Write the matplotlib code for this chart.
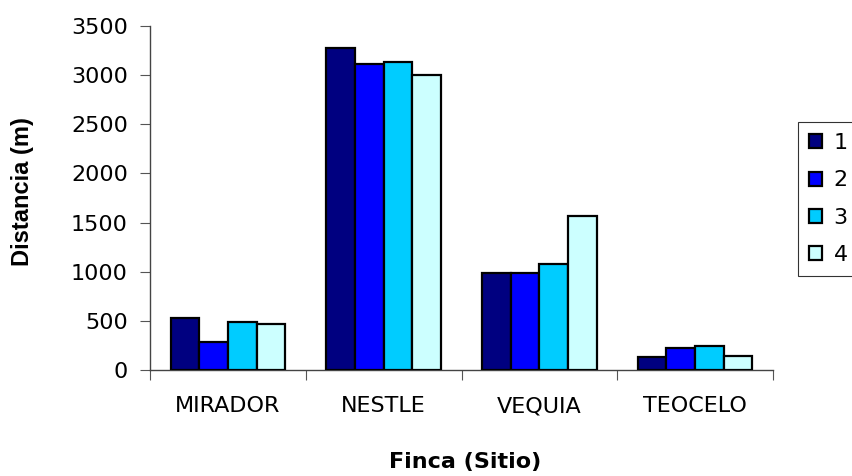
import matplotlib
matplotlib.use("Agg")
import matplotlib.pyplot as plt
import numpy as np

plt.rcParams['font.family'] = ['DejaVu Sans']

fincas = ["MIRADOR", "NESTLE", "VEQUIA", "TEOCELO"]
series_names = ["1", "2", "3", "4"]
serie_1 = [525, 3280, 985, 130]
serie_2 = [283, 3115, 985, 222]
serie_3 = [484, 3135, 1075, 243]
serie_4 = [471, 3005, 1565, 146]
colors = ["#000080", "#0000FF", "#00CCFF", "#CCFFFF"]

fig = plt.figure(figsize=(8.52, 4.76), dpi=100)
ax = fig.add_axes([150/852, 1-370/476, (773-150)/852, (370-26)/476])

x = np.arange(len(fincas))
n = len(series_names)
bw = 0.184
for i, (vals, name, c) in enumerate(zip([serie_1, serie_2, serie_3, serie_4], series_names, colors)):
    ax.bar(x + (i - (n-1)/2) * bw, vals, width=bw, color=c, edgecolor="black",
           linewidth=1.6, label=name, zorder=3)

ax.set_xlim(-0.5, len(fincas) - 0.5)
ax.set_ylim(0, 3500)
ax.set_yticks(np.arange(0, 3501, 500))
ax.set_xticks(np.arange(-0.5, len(fincas), 1.0))
ax.set_xticklabels([])
ax.set_xticks(x, minor=True)
ax.set_xticklabels(fincas, minor=True)
ax.tick_params(axis='x', which='minor', length=0, pad=19, labelsize=16)
ax.tick_params(axis='x', which='major', length=7, direction='out', color='#555555')
ax.tick_params(axis='y', length=7, direction='out', labelsize=16, color='#555555', pad=9)

for s in ["top", "right"]:
    ax.spines[s].set_visible(False)
for s in ["left", "bottom"]:
    ax.spines[s].set_color("#444444")
    ax.spines[s].set_linewidth(1.0)

fig.text(23/852, 1-192/476, "Distancia (m)", rotation=90, ha="center", va="center",
         fontsize=17, fontweight="bold", family=['Liberation Sans'])
fig.text(465/852, 1-462/476, "Finca (Sitio)", ha="center", va="center",
         fontsize=16, fontweight="bold")

leg = fig.legend(loc="upper left", bbox_to_anchor=(798/852, 1-122/476),
                 frameon=True, fancybox=False, edgecolor="black", fontsize=16,
                 handlelength=0.6, handleheight=0.6, handletextpad=0.5,
                 labelspacing=0.78, borderpad=0.5, borderaxespad=0)
leg.get_frame().set_linewidth(0.8)

fig.savefig("out.png", dpi=100)
